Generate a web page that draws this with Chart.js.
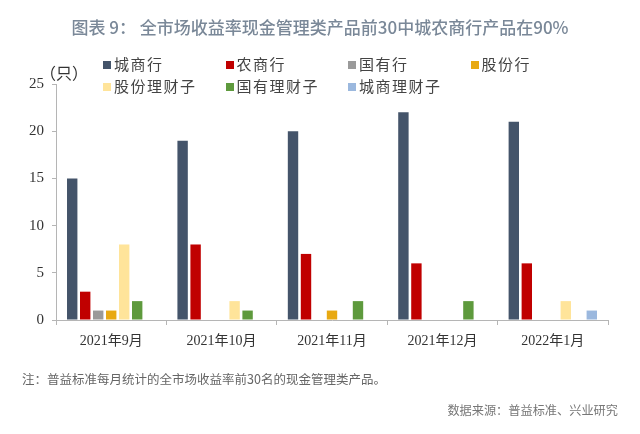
<!DOCTYPE html>
<html>
<head>
<meta charset="utf-8">
<script src="https://cdn.jsdelivr.net/npm/chart.js@4/dist/chart.umd.min.js"></script>
<style>
  html, body { margin: 0; padding: 0; background: #fff; }
  #wrap { position: relative; width: 640px; height: 434px; overflow: hidden; font-family: 'Noto Sans CJK SC', sans-serif; }
  #chart { position: absolute; left: 0; top: 0; }
  .title { position: absolute; top: 14px; left: 0; width: 640px; text-align: center;
           font-size: 17px; color: #7a8898; font-weight: 500; }
  .unit { position: absolute; left: 40px; top: 60px; font-size: 16px; color: #333; }
  .legend { position: absolute; left: 103px; top: 53px; width: 500px; font-size: 15px; color: #444; }
  .legend span { display: inline-block; width: 122.5px; height: 22px; line-height: 22px; letter-spacing: 1.5px; white-space: nowrap; }
  .legend i { display: inline-block; width: 8px; height: 8px; margin-right: 3px; vertical-align: 1px; }
  .note { position: absolute; left: 22px; top: 369px; font-size: 12.5px; color: #666; }
  .src { position: absolute; right: 22px; top: 401px; font-size: 12.2px; color: #777; }
</style>
</head>
<body>
<div id="wrap">
  <canvas id="chart" width="640" height="434"></canvas>
  <div class="title">图表 9： 全市场收益率现金管理类产品前30中城农商行产品在90%</div>
  <div class="unit">（只）</div>
  <div class="legend" id="legend"></div>
  <div class="note">注：普益标准每月统计的全市场收益率前30名的现金管理类产品。</div>
  <div class="src">数据来源：普益标准、兴业研究</div>
</div>
<script>
const months = ['2021年9月', '2021年10月', '2021年11月', '2021年12月', '2022年1月'];

const seriesNames = ['城商行', '农商行', '国有行', '股份行', '股份理财子', '国有理财子', '城商理财子'];
const chengshang     = [15, 19, 20, 22, 21];
const nongshang      = [3, 8, 7, 6, 6];
const guoyou         = [1, 0, 0, 0, 0];
const gufen          = [1, 0, 1, 0, 0];
const gufenLicai     = [8, 2, 0, 0, 2];
const guoyouLicai    = [2, 1, 2, 2, 0];
const chengshangLicai = [0, 0, 0, 0, 1];

const seriesColors = ['#44546a', '#c00000', '#9a9a9a', '#e8a912', '#ffe49a', '#5e9a3d', '#9bb8de'];
const seriesValues = [chengshang, nongshang, guoyou, gufen, gufenLicai, guoyouLicai, chengshangLicai];

// ── HTML legend ───────────────────────────────
const legendEl = document.getElementById('legend');
seriesNames.forEach((name, i) => {
  const s = document.createElement('span');
  s.innerHTML = '<i style="background:' + seriesColors[i] + '"></i>' + name;
  legendEl.appendChild(s);
});

const AXIS = '#b5b5b5';

new Chart(document.getElementById('chart'), {
  type: 'bar',
  data: {
    labels: months,
    datasets: seriesNames.map((name, i) => ({
      label: name,
      data: seriesValues[i],
      backgroundColor: seriesColors[i],
      borderWidth: 0,
      categoryPercentage: 0.824,
      barPercentage: 0.8
    }))
  },
  options: {
    responsive: false,
    animation: false,
    layout: { padding: { top: 84, left: 0, right: 32, bottom: 84 } },
    plugins: {
      legend: { display: false },
      tooltip: { enabled: false }
    },
    scales: {
      x: {
        afterFit: s => { s.height = 30; },
        grid: { drawOnChartArea: false, color: AXIS, tickLength: 5, offset: true },
        border: { color: AXIS, width: 1 },
        ticks: {
          color: '#333',
          padding: 8,
          font: { family: "'Liberation Serif', 'Noto Sans CJK SC', serif", size: 14 }
        }
      },
      y: {
        min: 0,
        max: 25,
        afterFit: s => { s.width = 56; },
        grid: { drawOnChartArea: false, color: AXIS, tickLength: 4 },
        border: { color: AXIS, width: 1 },
        ticks: {
          stepSize: 5,
          color: '#333',
          padding: 8,
          font: { family: "'Liberation Serif', serif", size: 15 }
        }
      }
    }
  }
});
</script>
</body>
</html>
